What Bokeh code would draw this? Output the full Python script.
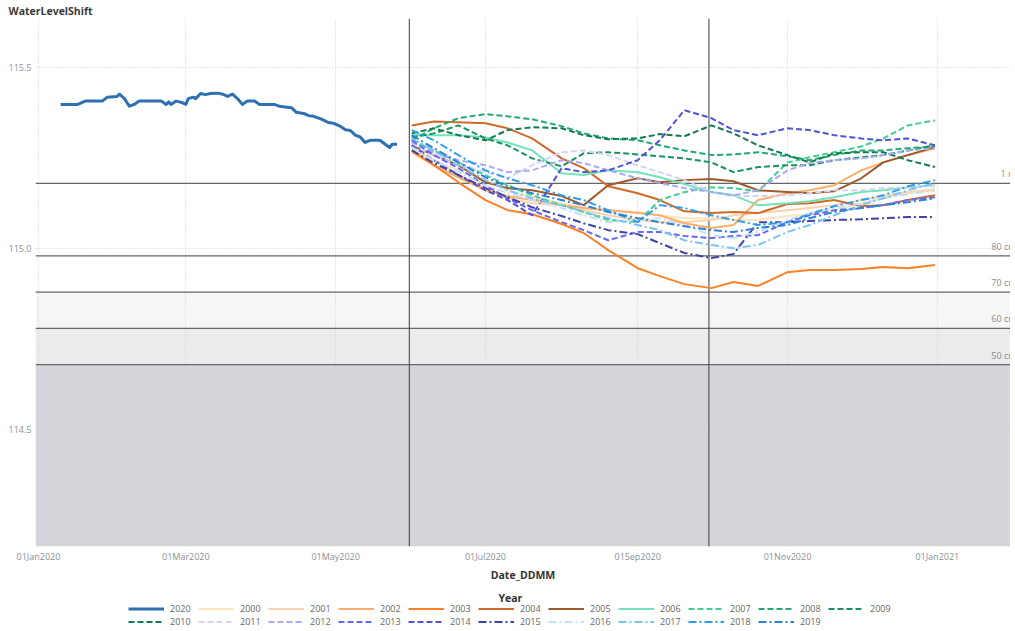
import pandas as pd
from bokeh.plotting import figure
from bokeh.layouts import column
from bokeh.models import (Range1d, FixedTicker, DatetimeTickFormatter, NumeralTickFormatter,
                          Span, BoxAnnotation, Legend, LegendItem, ColumnDataSource)
from bokeh.core.properties import value
from bokeh.embed import file_html
from bokeh.resources import INLINE

# ---------------- data ----------------
dates_2020 = ["2020-01-10", "2020-01-17", "2020-01-20", "2020-01-27", "2020-01-29", "2020-02-02",
              "2020-02-03", "2020-02-05", "2020-02-07", "2020-02-09", "2020-02-11", "2020-02-20",
              "2020-02-22", "2020-02-23", "2020-02-24", "2020-02-26", "2020-02-28", "2020-03-01",
              "2020-03-02", "2020-03-04", "2020-03-05", "2020-03-07", "2020-03-09", "2020-03-11",
              "2020-03-14", "2020-03-16", "2020-03-18", "2020-03-20", "2020-03-22", "2020-03-24",
              "2020-03-26", "2020-03-29", "2020-03-31", "2020-04-06", "2020-04-08", "2020-04-13",
              "2020-04-15", "2020-04-18", "2020-04-20", "2020-04-22", "2020-04-25", "2020-04-28",
              "2020-04-30", "2020-05-03", "2020-05-05", "2020-05-07", "2020-05-09", "2020-05-11",
              "2020-05-13", "2020-05-15", "2020-05-19", "2020-05-22", "2020-05-23", "2020-05-24",
              "2020-05-26"]
level_2020 = [115.398, 115.398, 115.407, 115.407, 115.418, 115.420, 115.426, 115.414, 115.393,
              115.398, 115.407, 115.407, 115.398, 115.405, 115.398, 115.407, 115.404, 115.398,
              115.414, 115.418, 115.414, 115.428, 115.425, 115.428, 115.429, 115.426, 115.420,
              115.426, 115.414, 115.398, 115.407, 115.407, 115.398, 115.398, 115.393, 115.389,
              115.376, 115.373, 115.367, 115.365, 115.358, 115.348, 115.346, 115.337, 115.328,
              115.326, 115.313, 115.308, 115.293, 115.299, 115.299, 115.284, 115.279, 115.288,
              115.288]

hist_dates = ["2020-06-01", "2020-06-10", "2020-06-20", "2020-07-01", "2020-07-10", "2020-07-20",
              "2020-08-01", "2020-08-10", "2020-08-20", "2020-09-01", "2020-09-10", "2020-09-20",
              "2020-10-01", "2020-10-10", "2020-10-20", "2020-11-01", "2020-11-10", "2020-11-20",
              "2020-12-01", "2020-12-10", "2020-12-20", "2020-12-31"]

level_2000 = [115.271, 115.244, 115.216, 115.189, 115.161, 115.142, 115.125, 115.112, 115.106, 115.101, 115.092,
              115.084, 115.084, 115.079, 115.079, 115.090, 115.095, 115.106, 115.125, 115.139, 115.153, 115.167]
level_2001 = [115.277, 115.244, 115.203, 115.167, 115.139, 115.125, 115.120, 115.106, 115.092, 115.079, 115.073,
              115.073, 115.079, 115.092, 115.098, 115.106, 115.112, 115.120, 115.134, 115.145, 115.156, 115.161]
level_2002 = [115.266, 115.230, 115.197, 115.161, 115.145, 115.134, 115.120, 115.112, 115.106, 115.098, 115.092,
              115.070, 115.057, 115.065, 115.134, 115.153, 115.161, 115.175, 115.216, 115.238, 115.258, 115.277]
level_2003 = [115.271, 115.230, 115.183, 115.134, 115.106, 115.095, 115.068, 115.043, 114.996, 114.946, 114.924,
              114.902, 114.891, 114.908, 114.897, 114.935, 114.941, 114.941, 114.944, 114.949, 114.946, 114.955]
level_2004 = [115.340, 115.351, 115.349, 115.346, 115.332, 115.304, 115.249, 115.222, 115.172, 115.153, 115.134,
              115.103, 115.098, 115.101, 115.098, 115.123, 115.125, 115.134, 115.117, 115.120, 115.134, 115.147]
level_2005 = [115.285, 115.258, 115.230, 115.183, 115.167, 115.161, 115.145, 115.120, 115.175, 115.194, 115.183,
              115.189, 115.192, 115.186, 115.161, 115.156, 115.153, 115.158, 115.194, 115.238, 115.258, 115.280]
level_2006 = [115.313, 115.313, 115.313, 115.307, 115.293, 115.271, 115.208, 115.203, 115.216, 115.211, 115.197,
              115.178, 115.156, 115.147, 115.120, 115.125, 115.131, 115.142, 115.156, 115.161, 115.169, 115.175]
level_2007 = [115.299, 115.271, 115.238, 115.203, 115.175, 115.147, 115.120, 115.101, 115.079, 115.073, 115.134,
              115.156, 115.169, 115.167, 115.158, 115.238, 115.252, 115.266, 115.282, 115.304, 115.340, 115.354]
level_2008 = [115.299, 115.332, 115.360, 115.371, 115.365, 115.357, 115.338, 115.318, 115.304, 115.299, 115.285,
              115.271, 115.258, 115.260, 115.266, 115.255, 115.244, 115.258, 115.271, 115.271, 115.277, 115.282]
level_2009 = [115.307, 115.318, 115.340, 115.304, 115.285, 115.249, 115.227, 115.263, 115.266, 115.260, 115.255,
              115.249, 115.238, 115.211, 115.225, 115.230, 115.230, 115.244, 115.252, 115.258, 115.271, 115.285]
level_2010 = [115.318, 115.332, 115.313, 115.299, 115.327, 115.335, 115.332, 115.313, 115.302, 115.304, 115.316,
              115.310, 115.340, 115.318, 115.285, 115.258, 115.238, 115.263, 115.266, 115.266, 115.244, 115.225]
level_2011 = [115.285, 115.258, 115.230, 115.211, 115.194, 115.230, 115.266, 115.271, 115.258, 115.230, 115.211,
              115.189, 115.156, 115.145, 115.145, 115.147, 115.153, 115.161, 115.161, 115.167, 115.169, 115.175]
level_2012 = [115.293, 115.266, 115.244, 115.230, 115.211, 115.216, 115.244, 115.236, 115.216, 115.194, 115.181,
              115.167, 115.156, 115.147, 115.161, 115.216, 115.236, 115.244, 115.249, 115.258, 115.271, 115.277]
level_2013 = [115.299, 115.258, 115.222, 115.175, 115.139, 115.106, 115.073, 115.051, 115.023, 115.046, 115.046,
              115.035, 115.029, 115.035, 115.037, 115.073, 115.092, 115.106, 115.112, 115.120, 115.134, 115.142]
level_2014 = [115.285, 115.244, 115.203, 115.161, 115.134, 115.092, 115.222, 115.211, 115.216, 115.244, 115.299,
              115.382, 115.360, 115.327, 115.313, 115.332, 115.327, 115.313, 115.304, 115.299, 115.304, 115.285]
level_2015 = [115.271, 115.236, 115.203, 115.167, 115.142, 115.114, 115.090, 115.070, 115.051, 115.040, 115.015,
              114.988, 114.974, 114.985, 115.073, 115.073, 115.076, 115.079, 115.081, 115.084, 115.087, 115.087]
level_2016 = [115.280, 115.244, 115.211, 115.175, 115.153, 115.134, 115.112, 115.092, 115.073, 115.079, 115.084,
              115.065, 115.037, 115.029, 115.046, 115.079, 115.098, 115.112, 115.125, 115.139, 115.150, 115.161]
level_2017 = [115.304, 115.271, 115.230, 115.189, 115.161, 115.139, 115.120, 115.101, 115.084, 115.065, 115.051,
              115.023, 115.010, 115.001, 115.010, 115.046, 115.065, 115.092, 115.120, 115.139, 115.161, 115.181]
level_2018 = [115.327, 115.299, 115.258, 115.216, 115.194, 115.175, 115.147, 115.134, 115.106, 115.073, 115.120,
              115.112, 115.092, 115.079, 115.065, 115.073, 115.095, 115.117, 115.134, 115.147, 115.172, 115.189]
level_2019 = [115.313, 115.277, 115.238, 115.197, 115.172, 115.153, 115.134, 115.120, 115.101, 115.084, 115.073,
              115.062, 115.051, 115.046, 115.057, 115.065, 115.084, 115.101, 115.112, 115.120, 115.128, 115.139]

hist_years = ["2000", "2001", "2002", "2003", "2004", "2005", "2006", "2007", "2008", "2009",
              "2010", "2011", "2012", "2013", "2014", "2015", "2016", "2017", "2018", "2019"]
hist_levels = [level_2000, level_2001, level_2002, level_2003, level_2004, level_2005, level_2006,
               level_2007, level_2008, level_2009, level_2010, level_2011, level_2012, level_2013,
               level_2014, level_2015, level_2016, level_2017, level_2018, level_2019]

ref_levels = [115.18, 114.98, 114.88, 114.78, 114.68]
ref_labels = ["1 m", "80 cm", "70 cm", "60 cm", "50 cm"]
marker_dates = ["2020-05-31", "2020-09-30"]
x_tick_dates = ["2020-01-01", "2020-03-01", "2020-05-01", "2020-07-01", "2020-09-01",
                "2020-11-01", "2021-01-01"]
y_ticks = [114.5, 115.0, 115.5]

# ---------------- styles ----------------
hist_colors = ["#fbe6c0", "#fdd3ae", "#fdae6b", "#fd8024", "#cf6a2c", "#9e5a2c", "#72e2b8",
               "#42cd92", "#1fab72", "#18925e", "#13794e", "#d3d3fb", "#a9a9f6", "#6868f4",
               "#5252d6", "#3c44a6", "#c4e0f6", "#7cc2f3", "#2b9ef0", "#2c83d3"]
hist_dash = (["solid"] * 7) + (["6 3"] * 8) + (["8 3 2 3"] * 5)
color_2020 = "#2f70b2"
FONT = "Open Sans"

t0 = pd.Timestamp("2020-01-01")
x_start = t0 - pd.Timedelta(days=1.22)
x_end = t0 + pd.Timedelta(days=395.8)

p = figure(width=1010, height=584, output_backend="svg", toolbar_location=None,
           x_axis_type="datetime",
           x_range=Range1d(x_start, x_end), y_range=Range1d(114.178, 115.635),
           min_border_left=35, min_border_right=0, min_border_top=0, min_border_bottom=0)
p.outline_line_color = None
p.background_fill_color = "white"
p.border_fill_color = "white"

p.title.text = "WaterLevelShift"
p.title.align = "left"
p.title.offset = -27
p.title.standoff = 2
p.title.text_font = FONT
p.title.text_font_size = "10.5px"
p.title.text_font_style = "bold"
p.title.text_color = "#3a3a3a"

# bands
band_colors = ["#f6f6f7", "#ececef", "#d5d6db"]
band_tops = [ref_levels[2], ref_levels[3], ref_levels[4]]
band_bottoms = [ref_levels[3], ref_levels[4], None]
for top, bot, col in zip(band_tops, band_bottoms, band_colors):
    p.add_layout(BoxAnnotation(top=top, bottom=bot, fill_color=col, fill_alpha=1.0,
                               line_color=None, level="image"))

# axes
p.xaxis.ticker = FixedTicker(ticks=[pd.Timestamp(d).value // 10**6 for d in x_tick_dates])
fmt = "%d%b%Y"
p.xaxis.formatter = DatetimeTickFormatter(days=fmt, months=fmt, years=fmt, hours=fmt,
                                          minutes=fmt, seconds=fmt, milliseconds=fmt)
p.yaxis.ticker = FixedTicker(ticks=y_ticks)
p.yaxis.formatter = NumeralTickFormatter(format="0.0")
for ax in (p.xaxis[0], p.yaxis[0]):
    ax.axis_line_color = None
    ax.major_tick_line_color = None
    ax.minor_tick_line_color = None
    ax.major_tick_out = 0
    ax.major_tick_in = 0
    ax.minor_tick_out = 0
    ax.minor_tick_in = 0
    ax.major_label_text_font = FONT
    ax.major_label_text_font_size = "9px"
    ax.major_label_text_color = "#8b909a"
p.yaxis.major_label_standoff = 4
p.xaxis.major_label_standoff = 3
p.xaxis.axis_label = "Date_DDMM"
p.xaxis.axis_label_text_font = FONT
p.xaxis.axis_label_text_font_size = "10.5px"
p.xaxis.axis_label_text_font_style = "bold"
p.xaxis.axis_label_text_color = "#333333"
p.xaxis.axis_label_standoff = 2

for g in (p.xgrid[0], p.ygrid[0]):
    g.grid_line_color = "#cfcfd2"
    g.grid_line_dash = "1 2"
    g.grid_line_width = 1

# reference lines
for lv in ref_levels:
    p.add_layout(Span(location=lv, dimension="width", line_color="#666666",
                      line_width=1.3, level="underlay"))
for d in marker_dates:
    p.add_layout(Span(location=pd.Timestamp(d), dimension="height", line_color="#4a4a4a",
                      line_width=1.1, level="underlay"))

lab_x = [t0 + pd.Timedelta(days=391.7)] + [t0 + pd.Timedelta(days=388.0)] * 4
p.text(x=lab_x, y=ref_levels, text=ref_labels, text_font=value(FONT), text_font_size="9px",
       text_color="#8a8a8a", text_align="left", text_baseline="bottom", y_offset=-3)

# series
hd = pd.to_datetime(hist_dates)
for yr, lv, col, dash in zip(hist_years, hist_levels, hist_colors, hist_dash):
    src = ColumnDataSource(dict(x=hd, y=lv))
    p.line("x", "y", source=src, line_color=col, line_width=2, line_dash=dash,
           line_join="round")
src20 = ColumnDataSource(dict(x=pd.to_datetime(dates_2020), y=level_2020))
p.line("x", "y", source=src20, line_color=color_2020, line_width=3, line_join="round")

# ---------------- legend panel ----------------
q = figure(width=1010, height=44, output_backend="svg", toolbar_location=None,
           x_range=Range1d(0, 1), y_range=Range1d(0, 1),
           min_border_left=35, min_border_right=0, min_border_top=20, min_border_bottom=0)
q.axis.visible = False
q.grid.visible = False
q.outline_line_color = None
q.title.text = "Year"
q.title.align = "left"
q.title.offset = 463
q.title.standoff = 0
q.title.vertical_align = "bottom"
q.title.text_font = FONT
q.title.text_font_size = "10.5px"
q.title.text_font_style = "bold"
q.title.text_color = "#333333"

# legend swatches: off-range stand-ins that carry each series' style
off_x = [-10, -9]
off_y = [-10, -10]
items = []
r = q.line(x=off_x, y=off_y, line_color=color_2020, line_width=3)
items.append(LegendItem(label="2020", renderers=[r]))
for yr, col, dash in zip(hist_years, hist_colors, hist_dash):
    r = q.line(x=off_x, y=off_y, line_color=col, line_width=2, line_dash=dash)
    items.append(LegendItem(label=yr, renderers=[r]))

legend = Legend(items=items, orientation="horizontal", nrows=2, location=(93, 0),
                glyph_width=36, glyph_height=9, label_height=9, label_width=28,
                label_standoff=6, spacing=0, padding=0, margin=0,
                label_text_font=FONT, label_text_font_size="9px", label_text_color="#666666",
                border_line_color=None, background_fill_alpha=0)
q.add_layout(legend, "center")

layout = column(p, q, spacing=0)
open("out.html", "w").write(file_html(layout, INLINE))
